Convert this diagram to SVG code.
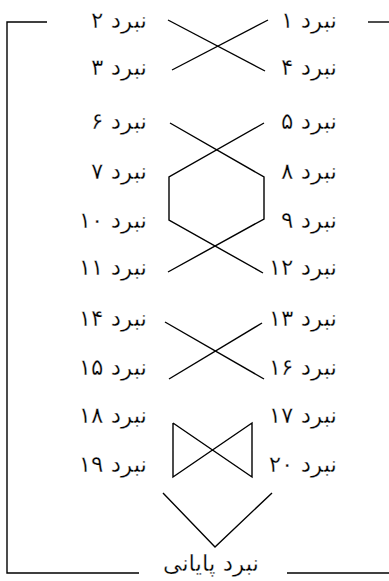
<svg xmlns="http://www.w3.org/2000/svg" width="389" height="581" viewBox="0 0 389 581">
<style>
.lbl{font-family:"DejaVu Sans",sans-serif;font-size:23px;fill:#000;stroke:#fff;stroke-width:0.3px;direction:rtl;unicode-bidi:embed}
.r{text-anchor:start}
.c{text-anchor:middle}
.ln{fill:none;stroke:#000;stroke-width:1.4}
</style>
<rect width="389" height="581" fill="#fff"/>
<g id="connectors">
<polyline class="ln" points="47,22 7,22 7,573 139,573"/>
<line class="ln" x1="368" y1="22" x2="389" y2="22"/>
<line class="ln" x1="287" y1="573" x2="389" y2="573"/>
<line class="ln" x1="168" y1="20" x2="265" y2="71"/>
<line class="ln" x1="172" y1="70" x2="268" y2="20"/>
<polyline class="ln" points="170,123 264,177 264,219 168,272"/>
<polyline class="ln" points="264,123 169,177 169,220 263,273"/>
<line class="ln" x1="165" y1="322" x2="264" y2="379"/>
<line class="ln" x1="169" y1="379" x2="262" y2="323"/>
<polyline class="ln" points="173,423 173,477 252,423 252,477 173,423"/>
<polyline class="ln" points="163,493 215,547 272,493"/>
</g>
<g id="n1"><text class="lbl r" x="337" y="28">نبرد ۱</text></g>
<g id="n2"><text class="lbl r" x="147" y="28">نبرد ۲</text></g>
<g id="n4"><text class="lbl r" x="337" y="75">نبرد ۴</text></g>
<g id="n3"><text class="lbl r" x="147" y="75">نبرد ۳</text></g>
<g id="n5"><text class="lbl r" x="337" y="129">نبرد ۵</text></g>
<g id="n6"><text class="lbl r" x="147" y="129">نبرد ۶</text></g>
<g id="n8"><text class="lbl r" x="337" y="179">نبرد ۸</text></g>
<g id="n7"><text class="lbl r" x="147" y="179">نبرد ۷</text></g>
<g id="n9"><text class="lbl r" x="337" y="228">نبرد ۹</text></g>
<g id="n10"><text class="lbl r" x="147" y="228">نبرد ۱۰</text></g>
<g id="n12"><text class="lbl r" x="337" y="275">نبرد ۱۲</text></g>
<g id="n11"><text class="lbl r" x="147" y="275">نبرد ۱۱</text></g>
<g id="n13"><text class="lbl r" x="337" y="326">نبرد ۱۳</text></g>
<g id="n14"><text class="lbl r" x="147" y="326">نبرد ۱۴</text></g>
<g id="n16"><text class="lbl r" x="337" y="375">نبرد ۱۶</text></g>
<g id="n15"><text class="lbl r" x="147" y="375">نبرد ۱۵</text></g>
<g id="n17"><text class="lbl r" x="337" y="423">نبرد ۱۷</text></g>
<g id="n18"><text class="lbl r" x="147" y="423">نبرد ۱۸</text></g>
<g id="n20"><text class="lbl r" x="337" y="472">نبرد ۲۰</text></g>
<g id="n19"><text class="lbl r" x="147" y="472">نبرد ۱۹</text></g>
<g id="final"><text class="lbl c" x="211" y="571">نبرد پایانی</text></g>
</svg>
